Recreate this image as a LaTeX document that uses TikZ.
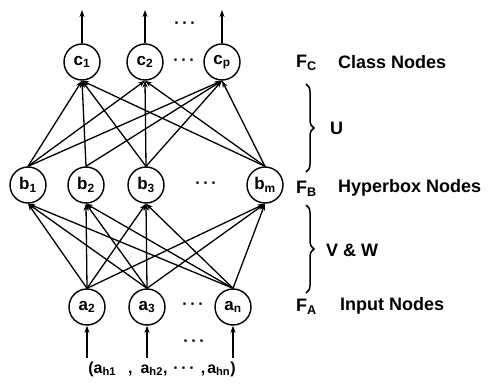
\documentclass[tikz,border=0pt]{standalone}
\usepackage{fontspec}
\setmainfont{Liberation Sans}
\usetikzlibrary{arrows.meta,decorations.pathreplacing}
\newcommand\lsub[1]{\textsubscript{#1}}
\begin{document}
\begin{tikzpicture}[x=1pt,y=-1pt,
  neuron/.style={circle,draw,line width=1.4pt,minimum size=36pt,inner sep=0pt,font=\bfseries\fontsize{17}{19}\selectfont},
  link/.style={line width=1.3pt,-{Stealth[length=7pt,width=5pt]}},
  lbl/.style={font=\bfseries\fontsize{18}{20}\selectfont,anchor=west,inner sep=0pt},
  dots/.style={font=\bfseries\fontsize{16}{18}\selectfont,inner sep=0pt},
  brc/.style={decorate,decoration={brace,amplitude=8pt},line width=1.5pt}]
\useasboundingbox (0,0) rectangle (500,385);
% class nodes
\node[neuron] (c1) at (82,62) {c\lsub{1}};
\node[neuron] (c2) at (145,62) {c\lsub{2}};
\node[neuron] (cp) at (222,62) {c\lsub{p}};
% hyperbox nodes
\node[neuron] (b1) at (28,185) {b\lsub{1}};
\node[neuron] (b2) at (86,185) {b\lsub{2}};
\node[neuron] (b3) at (146,185) {b\lsub{3}};
\node[neuron] (bm) at (265,185) {b\lsub{m}};
% input nodes
\node[neuron] (a2) at (87,307) {a\lsub{2}};
\node[neuron] (a3) at (147,307) {a\lsub{3}};
\node[neuron] (an) at (233,307) {a\lsub{n}};
% dots
\node[dots] (d1) at (185,25) {·\,·\,·};
\node[dots] (d2) at (184,62) {·\,·\,·};
\node[dots] (d3) at (206,185) {·\,·\,·};
\node[dots] (d4) at (193,306) {·\,·\,·};
\node[dots] (d5) at (194,343) {·\,·\,·};
% outputs
\coordinate (o1) at (82,10);
\coordinate (o2) at (145,10);
\coordinate (op) at (222,10);
\draw[link] (c1.north) -- (o1);
\draw[link] (c2.north) -- (o2);
\draw[link] (cp.north) -- (op);
% inputs
\coordinate (i2) at (87,358);
\coordinate (i3) at (147,358);
\coordinate (in) at (233,358);
\draw[link] (i2) -- (a2.south);
\draw[link] (i3) -- (a3.south);
\draw[link] (in) -- (an.south);
\node[font=\bfseries\fontsize{16}{18}\selectfont,inner sep=0pt] (inp) at (162,369) {(a\lsub{h1}\hspace{12pt},\hspace{8pt}a\lsub{h2},\hspace{6pt}·\,·\,·\hspace{6pt},\hspace{2pt}a\lsub{hn})};
% b -> c
\foreach \b in {b1,b2,b3,bm} \draw[link] (\b.north) -- (c1.south);
\foreach \b in {b1,b3,bm} \draw[link] (\b.north) -- (c2.south);
\foreach \b in {b1,b2,b3,bm} \draw[link] (\b.north) -- (cp.south);
% a -> b
\foreach \a in {a2,a3,an} \foreach \b in {b1,b2,b3,bm} \draw[link] (\a.north) -- (\b.south);
% right labels
\node[lbl] (fc) at (296,63) {F\lsub{C}};
\node[lbl] (cn) at (338,62) {Class Nodes};
\node[lbl] (fb) at (296,189) {F\lsub{B}};
\node[lbl] (hn) at (338,188) {Hyperbox Nodes};
\node[lbl] (fa) at (296,307) {F\lsub{A}};
\node[lbl] (inn) at (340,306) {Input Nodes};
\coordinate (u1) at (306,84);
\coordinate (u2) at (306,172);
\draw[brc] (u1) -- (u2);
\node[lbl] (ul) at (330,128) {U};
\coordinate (v1) at (306,205);
\coordinate (v2) at (306,293);
\draw[brc] (v1) -- (v2);
\node[lbl] (vl) at (326,250) {V \& W};
\end{tikzpicture}
\end{document}
